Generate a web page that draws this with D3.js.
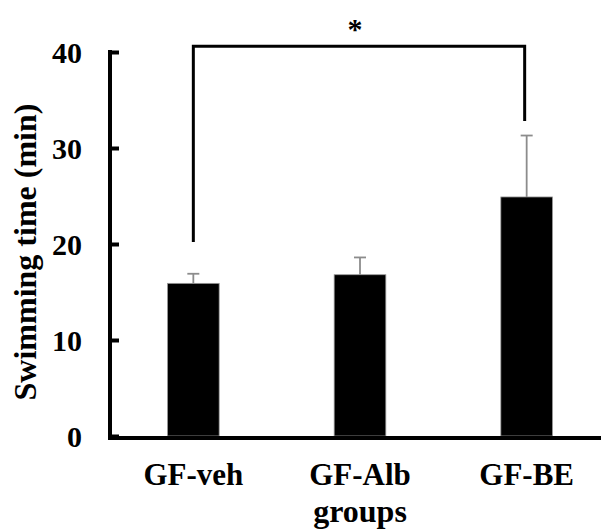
<!DOCTYPE html>
<head>
   <meta charset="utf-8">
   <script src="https://d3js.org/d3.v7.min.js"></script>
   <style>
   body{
      margin: 0;
      background: #ffffff;
   }
   text{
      font-family: "Liberation Serif", "Times New Roman", serif;
      font-weight: 700;
      fill: #000000;
   }
   text.catLabel{
      font-size: 31px;
   }
   text.axisTitle{
      font-size: 32px;
   }
   text.star{
      font-size: 30px;
   }
   </style>
</head>

<body>
   <script>
var width = 601;
var height = 530;

// values
var groups = ['GF-veh', 'GF-Alb', 'GF-BE'];
var means = [15.9, 16.8, 24.9];
var errors = [1.0, 1.8, 6.4];
var yTicks = [0, 10, 20, 30, 40];

// significance bracket: from group, to group, level, leg ends
var bracketGroups = ['GF-veh', 'GF-BE'];
var bracketLevels = [40.6, 20.2, 32.8];
var bracketLabel = '*';

var svg = d3.select('body').append('svg')
   .attr('width', width)
   .attr('height', height);

var x = d3.scaleBand()
   .domain(groups)
   .range([110, 610])
   .paddingInner(0.69)
   .paddingOuter(0.345);

var y = d3.scaleLinear()
   .domain([0, 40])
   .range([436, 52]);

let data = groups.map((g, i) => ({group: g, mean: means[i], err: errors[i]}));

// bars
svg.selectAll('rect.bar')
   .data(data)
   .enter()
   .append('rect')
   .attr('class', 'bar')
   .attr('x', d => x(d.group))
   .attr('y', d => y(d.mean))
   .attr('width', x.bandwidth())
   .attr('height', d => y(0) - y(d.mean))
   .style('fill', '#000000')
   .style('stroke', '#999999')
   .style('stroke-width', 0.8);

// error bars (upper only)
let cx = d => x(d.group) + x.bandwidth()/2;

svg.selectAll('line.errStem')
   .data(data)
   .enter()
   .append('line')
   .attr('x1', cx)
   .attr('x2', cx)
   .attr('y1', d => y(d.mean))
   .attr('y2', d => y(d.mean + d.err))
   .style('stroke', '#8c8c8c')
   .style('stroke-width', 1.8);

svg.selectAll('line.errCap')
   .data(data)
   .enter()
   .append('line')
   .attr('x1', d => cx(d) - 6)
   .attr('x2', d => cx(d) + 6)
   .attr('y1', d => y(d.mean + d.err))
   .attr('y2', d => y(d.mean + d.err))
   .style('stroke', '#8c8c8c')
   .style('stroke-width', 1.8);

// y axis
let yAxis = d3.axisLeft(y)
   .tickValues(yTicks)
   .tickSizeInner(-9)
   .tickSizeOuter(0)
   .tickPadding(28);

let gy = svg.append('g')
   .attr('transform', 'translate(110,0)')
   .call(yAxis);

gy.select('.domain')
   .style('stroke', '#000000')
   .style('stroke-width', 4)
   .attr('d', `M0,${y(40)-2}V${y(0)}`);

gy.selectAll('.tick line')
   .style('stroke', '#000000')
   .style('stroke-width', 4);

gy.selectAll('.tick text')
   .attr('dy', '0.35em')
   .style('font-size', '30px')
   .style('font-family', '"Liberation Serif", serif')
   .style('font-weight', 700)
   .style('fill', '#000000');

// x baseline, running off the right edge
svg.append('line')
   .attr('x1', 108)
   .attr('x2', width)
   .attr('y1', y(0) + 2)
   .attr('y2', y(0) + 2)
   .style('stroke', '#000000')
   .style('stroke-width', 4);

// category labels
svg.selectAll('text.catLabel')
   .data(groups)
   .enter()
   .append('text')
   .attr('class', 'catLabel')
   .attr('x', d => x(d) + x.bandwidth()/2)
   .attr('y', 485)
   .style('text-anchor', 'middle')
   .text(d => d);

svg.append('text')
   .attr('class', 'axisTitle')
   .attr('x', x(groups[1]) + x.bandwidth()/2)
   .attr('y', 522)
   .style('text-anchor', 'middle')
   .text('groups');

svg.append('text')
   .attr('class', 'axisTitle')
   .attr('transform', `translate(36, 252) rotate(-90)`)
   .style('text-anchor', 'middle')
   .text('Swimming time (min)');

// significance bracket
let bx1 = x(bracketGroups[0]) + x.bandwidth()/2;
let bx2 = x(bracketGroups[1]) + x.bandwidth()/2 - 2;

svg.append('path')
   .attr('d', `M${bx1},${y(bracketLevels[1])}V${y(bracketLevels[0])}H${bx2}V${y(bracketLevels[2])}`)
   .style('fill', 'none')
   .style('stroke', '#000000')
   .style('stroke-width', 3);

svg.append('text')
   .attr('class', 'star')
   .attr('x', (bx1 + bx2)/2 - 4)
   .attr('y', 39)
   .style('text-anchor', 'middle')
   .text(bracketLabel);

   </script>
</body>
